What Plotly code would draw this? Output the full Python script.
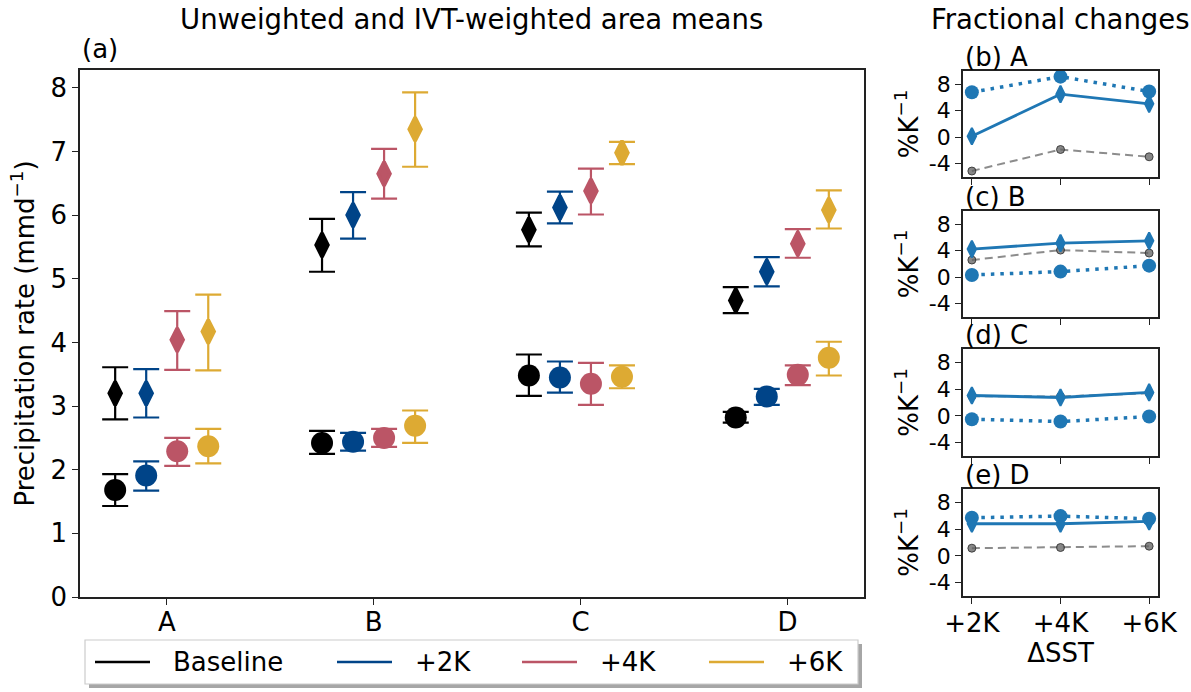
import plotly.graph_objects as go

# ---------------- data ----------------
regions = ["A", "B", "C", "D"]
scenarios = ["Baseline", "+2K", "+4K", "+6K"]
scenario_colors = ["#000000", "#004488", "#BB5566", "#DDAA33"]

# IVT-weighted area means (mm/d): mean, lower and upper bounds per scenario, by region
ivt_mean = {
    "Baseline": [3.20, 5.53, 5.77, 4.66],
    "+2K":      [3.20, 6.00, 6.12, 5.11],
    "+4K":      [4.04, 6.65, 6.38, 5.55],
    "+6K":      [4.17, 7.35, 6.98, 6.08],
}
ivt_low = {
    "Baseline": [2.79, 5.11, 5.51, 4.46],
    "+2K":      [2.82, 5.63, 5.87, 4.88],
    "+4K":      [3.57, 6.26, 6.01, 5.33],
    "+6K":      [3.56, 6.76, 6.80, 5.79],
}
ivt_high = {
    "Baseline": [3.61, 5.94, 6.04, 4.87],
    "+2K":      [3.58, 6.36, 6.37, 5.34],
    "+4K":      [4.49, 7.04, 6.73, 5.78],
    "+6K":      [4.75, 7.93, 7.15, 6.39],
}

# Unweighted area means (mm/d)
area_mean = {
    "Baseline": [1.68, 2.42, 3.48, 2.82],
    "+2K":      [1.91, 2.44, 3.45, 3.15],
    "+4K":      [2.29, 2.50, 3.35, 3.49],
    "+6K":      [2.37, 2.69, 3.46, 3.76],
}
area_low = {
    "Baseline": [1.43, 2.25, 3.16, 2.74],
    "+2K":      [1.67, 2.30, 3.21, 3.02],
    "+4K":      [2.06, 2.36, 3.02, 3.33],
    "+6K":      [2.10, 2.42, 3.28, 3.48],
}
area_high = {
    "Baseline": [1.93, 2.61, 3.81, 2.91],
    "+2K":      [2.13, 2.58, 3.70, 3.27],
    "+4K":      [2.50, 2.64, 3.68, 3.64],
    "+6K":      [2.64, 2.93, 3.64, 4.01],
}

# Fractional changes (%/K) per warming level
warming = ["+2K", "+4K", "+6K"]
frac_weighted = {
    "A": [0.15, 6.5, 5.05],
    "B": [4.25, 5.15, 5.5],
    "C": [3.05, 2.75, 3.5],
    "D": [4.8, 4.8, 5.15],
}
frac_unweighted = {
    "A": [6.8, 9.15, 6.9],
    "B": [0.35, 0.85, 1.75],
    "C": [-0.5, -0.85, -0.1],
    "D": [5.7, 5.95, 5.55],
}
frac_ivt = {
    "A": [-5.1, -1.85, -2.95],
    "B": [2.6, 4.1, 3.65],
    "C": [2.95, 2.9, 3.4],
    "D": [1.15, 1.25, 1.45],
}

# ---------------- layout constants ----------------
W, H = 1191, 692
FONT = "DejaVu Sans"
FS = 26
SMALL_FS = 22
TITLE_FS = 27.5
AX_COLOR = "#222222"
offsets = [-0.25, -0.10, 0.05, 0.20]
TAB_BLUE = "#1f77b4"


def px_x(v):
    return v / W


def px_y(v):
    return 1 - v / H


fig = go.Figure()

# ---------------- panel (a) ----------------
for s, col, off in zip(scenarios, scenario_colors, offsets):
    xs = [i + off for i in range(len(regions))]
    # IVT-weighted (diamonds)
    m, lo, hi = ivt_mean[s], ivt_low[s], ivt_high[s]
    fig.add_trace(go.Scatter(
        x=xs, y=m, mode="markers", showlegend=False, name=s,
        marker=dict(symbol="diamond-tall", size=17, color=col,
                    line=dict(color=col, width=3.5)),
        error_y=dict(type="data", symmetric=False,
                     array=[h - v for h, v in zip(hi, m)],
                     arrayminus=[v - l for v, l in zip(m, lo)],
                     color=col, thickness=2.2, width=13),
        xaxis="x", yaxis="y"))
    # unweighted (circles)
    m, lo, hi = area_mean[s], area_low[s], area_high[s]
    fig.add_trace(go.Scatter(
        x=xs, y=m, mode="markers", showlegend=False, name=s,
        marker=dict(symbol="circle", size=22, color=col, line=dict(width=0)),
        error_y=dict(type="data", symmetric=False,
                     array=[h - v for h, v in zip(hi, m)],
                     arrayminus=[v - l for v, l in zip(m, lo)],
                     color=col, thickness=2.2, width=13),
        xaxis="x", yaxis="y"))

axis_common = dict(showline=True, linecolor=AX_COLOR, linewidth=1.6, mirror=True,
                   ticks="outside", ticklen=6, tickwidth=1.4, tickcolor=AX_COLOR,
                   showgrid=False, zeroline=False, automargin=False)

left_x0, left_x1 = px_x(80), px_x(864)
left_y0, left_y1 = px_y(597), px_y(70)

fig.update_layout(
    xaxis=dict(domain=[left_x0, left_x1], range=[-0.42, 3.37],
               tickvals=list(range(len(regions))), ticktext=regions,
               ticklabelstandoff=-5,
               tickfont=dict(family=FONT, size=FS, color="#000"),
               anchor="y", **axis_common),
    yaxis=dict(domain=[left_y0, left_y1], range=[0, 8.28],
               tickvals=list(range(0, 9)), anchor="x",
               tickfont=dict(family=FONT, size=FS, color="#000"),
               title=dict(text="Precipitation rate (mmd<sup>−1</sup>)",
                          font=dict(family=FONT, size=FS, color="#000"), standoff=8),
               **axis_common),
)

# ---------------- panels (b)-(e) ----------------
right_x0, right_x1 = px_x(963), px_x(1158)
panel_boxes = [(71, 177), (211, 317), (349, 456), (489, 596)]
panel_letters = ["b", "c", "d", "e"]

for k, (reg, (top, bot), letter) in enumerate(zip(regions, panel_boxes, panel_letters)):
    n = k + 2
    xa, ya = f"x{n}", f"y{n}"
    xs = list(range(len(warming)))
    fig.add_trace(go.Scatter(
        x=xs, y=frac_ivt[reg], mode="lines+markers", showlegend=False,
        line=dict(color="rgba(120,120,120,0.85)", width=2, dash="8px,5px"),
        marker=dict(symbol="circle", size=8, color="rgba(95,95,95,0.75)",
                    line=dict(color="rgba(40,40,40,0.8)", width=1)),
        xaxis=xa, yaxis=ya))
    fig.add_trace(go.Scatter(
        x=xs, y=frac_unweighted[reg], mode="lines+markers", showlegend=False,
        line=dict(color=TAB_BLUE, width=3.5, dash="3.5px,6px"),
        marker=dict(symbol="circle", size=14, color=TAB_BLUE),
        xaxis=xa, yaxis=ya))
    fig.add_trace(go.Scatter(
        x=xs, y=frac_weighted[reg], mode="lines+markers", showlegend=False,
        line=dict(color=TAB_BLUE, width=2.8),
        marker=dict(symbol="diamond-tall", size=12, color=TAB_BLUE,
                    line=dict(color=TAB_BLUE, width=2)),
        xaxis=xa, yaxis=ya))

    last = (k == len(regions) - 1)
    xdef = dict(domain=[right_x0, right_x1], range=[-0.1, 2.1],
                tickvals=xs, ticktext=warming, showticklabels=last,
                ticklabelstandoff=-3,
                tickfont=dict(family=FONT, size=FS, color="#000"),
                anchor=ya, **axis_common)
    if last:
        xdef["title"] = dict(text="ΔSST", font=dict(family=FONT, size=FS, color="#000"),
                             standoff=4)
    ydef = dict(domain=[px_y(bot), px_y(top)], range=[-6, 10],
                tickvals=[-4, 0, 4, 8], ticktext=["-4", "0", "4", "8"],
                tickfont=dict(family=FONT, size=SMALL_FS, color="#000"),
                anchor=xa,
                title=dict(text="%K<sup>−1</sup>",
                           font=dict(family=FONT, size=FS, color="#000"), standoff=3),
                **axis_common)
    fig.layout[f"xaxis{n}"] = xdef
    fig.layout[f"yaxis{n}"] = ydef

    fig.add_annotation(text=f"({letter}) {reg}", xref="paper", yref="paper",
                       x=right_x0, y=px_y(top - 14), xanchor="left", yanchor="middle",
                       showarrow=False, font=dict(family=FONT, size=FS, color="#000"))

# ---------------- titles ----------------
fig.add_annotation(text="Unweighted and IVT-weighted area means", xref="paper", yref="paper",
                   x=(left_x0 + left_x1) / 2, y=px_y(19), xanchor="center", yanchor="middle",
                   showarrow=False, font=dict(family=FONT, size=TITLE_FS, color="#000"))
fig.add_annotation(text="Fractional changes", xref="paper", yref="paper",
                   x=(right_x0 + right_x1) / 2, y=px_y(19), xanchor="center", yanchor="middle",
                   showarrow=False, font=dict(family=FONT, size=TITLE_FS, color="#000"))
fig.add_annotation(text="(a)", xref="paper", yref="paper",
                   x=left_x0, y=px_y(49), xanchor="left", yanchor="middle",
                   showarrow=False, font=dict(family=FONT, size=FS, color="#000"))

# ---------------- legend (framed, with drop shadow) ----------------
lg_x0, lg_x1, lg_y0, lg_y1 = 85, 858, 640, 684
fig.add_shape(type="rect", xref="paper", yref="paper",
              x0=px_x(lg_x0 + 4), x1=px_x(lg_x1 + 4), y0=px_y(lg_y1 + 4), y1=px_y(lg_y0 + 4),
              fillcolor="rgba(0,0,0,0.35)", line=dict(width=0), layer="above")
fig.add_shape(type="rect", xref="paper", yref="paper",
              x0=px_x(lg_x0), x1=px_x(lg_x1), y0=px_y(lg_y1), y1=px_y(lg_y0),
              fillcolor="white", line=dict(color="#cccccc", width=1.2), layer="above")

legend_line_x = [95, 337, 522, 709]
legend_y = 662
for s, col, lx in zip(scenarios, scenario_colors, legend_line_x):
    fig.add_shape(type="line", xref="paper", yref="paper",
                  x0=px_x(lx), x1=px_x(lx + 55), y0=px_y(legend_y), y1=px_y(legend_y),
                  line=dict(color=col, width=2.5), layer="above")
    fig.add_annotation(text=s, xref="paper", yref="paper",
                       x=px_x(lx + 76), y=px_y(legend_y), xanchor="left", yanchor="middle",
                       showarrow=False, font=dict(family=FONT, size=FS, color="#000"))

fig.update_layout(
    width=W, height=H,
    margin=dict(l=0, r=0, t=0, b=0),
    paper_bgcolor="white", plot_bgcolor="rgba(0,0,0,0)",
    font=dict(family=FONT, size=FS, color="#000"),
    showlegend=False,
)

fig.write_html("out.html")
